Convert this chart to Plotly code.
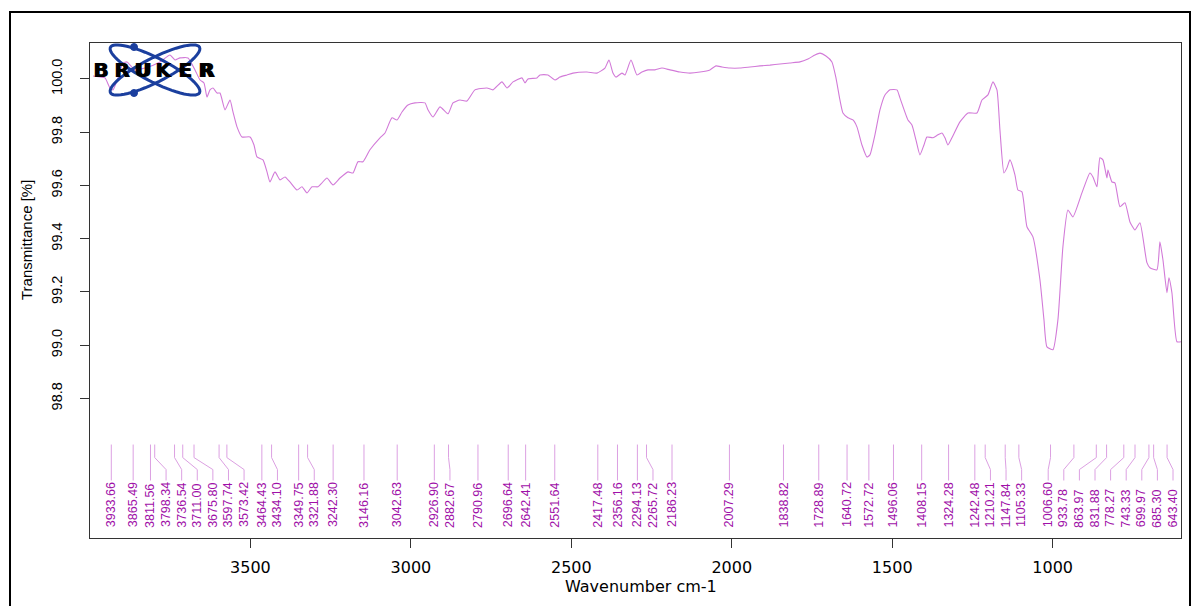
import numpy as np
import plotly.graph_objects as go

# ---------------- data ----------------
wavenumber = [3990.6, 3968.8, 3953.3, 3937.7, 3928.3, 3912.7, 3897.2, 3884.7, 3859.8, 3828.6,
              3781.9, 3750.7, 3735.1, 3719.5, 3694.6, 3672.8, 3657.2, 3644.8, 3635.4, 3626.1,
              3616.7, 3604.2, 3594.9, 3579.3, 3563.7, 3554.4, 3541.9, 3526.3, 3501.4, 3488.9,
              3479.6, 3460.9, 3448.4, 3439.1, 3423.5, 3407.9, 3392.3, 3376.8, 3354.9, 3339.4,
              3323.8, 3308.2, 3289.5, 3277.0, 3261.5, 3242.8, 3221.0, 3196.0, 3180.4, 3164.9,
              3149.3, 3127.5, 3096.3, 3080.7, 3058.9, 3043.3, 3027.7, 3009.1, 2987.3, 2956.1,
              2946.8, 2931.1, 2909.3, 2884.4, 2868.8, 2847.0, 2825.2, 2800.3, 2762.9, 2744.2,
              2716.1, 2700.5, 2681.8, 2653.8, 2644.4, 2635.1, 2607.1, 2597.7, 2572.8, 2551.0,
              2535.4, 2513.6, 2494.9, 2451.3, 2420.1, 2395.2, 2382.7, 2370.2, 2360.9, 2342.2,
              2332.8, 2314.1, 2295.4, 2279.8, 2261.2, 2239.3, 2217.5, 2192.6, 2161.4, 2130.3,
              2099.1, 2068.0, 2049.3, 2030.6, 2005.6, 1974.5, 1943.3, 1912.1, 1881.0, 1849.8,
              1818.7, 1787.5, 1762.6, 1740.8, 1725.2, 1706.5, 1687.8, 1675.3, 1662.9, 1653.5,
              1637.9, 1622.3, 1609.9, 1594.3, 1578.7, 1569.4, 1553.8, 1538.2, 1522.6, 1507.0,
              1485.2, 1475.9, 1450.9, 1438.5, 1426.0, 1413.6, 1401.1, 1391.8, 1372.9, 1357.5,
              1345.0, 1335.6, 1326.3, 1313.8, 1288.9, 1263.9, 1235.9, 1220.3, 1201.6, 1186.0,
              1173.6, 1164.3, 1151.8, 1142.4, 1133.1, 1117.5, 1108.2, 1095.7, 1080.1, 1061.4,
              1039.6, 1027.1, 1017.8, 999.1, 983.5, 968.0, 952.4, 936.8, 908.7, 883.8,
              874.4, 862.0, 852.6, 843.3, 830.8, 827.7, 815.2, 805.9, 790.3, 774.7,
              759.1, 743.6, 728.0, 706.2, 696.8, 675.0, 665.7, 656.3, 643.8, 637.6,
              628.3, 612.7, 600.2]

transmittance = [100.011, 100.007, 100.004, 99.966, 99.959, 100.004, 100.060, 100.064, 100.034, 100.041,
                 100.064, 100.090, 100.071, 100.079, 100.079, 100.034, 99.996, 99.985, 99.932, 99.959,
                 99.966, 99.947, 99.947, 99.884, 99.921, 99.876, 99.820, 99.782, 99.782, 99.752,
                 99.707, 99.696, 99.651, 99.613, 99.651, 99.621, 99.632, 99.613, 99.583, 99.595,
                 99.572, 99.595, 99.595, 99.610, 99.628, 99.602, 99.628, 99.651, 99.647, 99.689,
                 99.689, 99.734, 99.779, 99.797, 99.854, 99.846, 99.876, 99.902, 99.910, 99.910,
                 99.884, 99.857, 99.895, 99.869, 99.910, 99.921, 99.917, 99.959, 99.966, 99.959,
                 99.989, 99.966, 99.989, 100.004, 99.985, 100.000, 100.004, 100.015, 100.015, 99.996,
                 100.007, 100.015, 100.022, 100.026, 100.022, 100.041, 100.071, 100.022, 100.007, 100.022,
                 100.015, 100.071, 100.015, 100.026, 100.034, 100.034, 100.041, 100.034, 100.026, 100.022,
                 100.026, 100.034, 100.049, 100.045, 100.041, 100.041, 100.045, 100.049, 100.052, 100.056,
                 100.060, 100.064, 100.075, 100.090, 100.097, 100.086, 100.064, 100.004, 99.921, 99.872,
                 99.854, 99.846, 99.820, 99.752, 99.707, 99.715, 99.790, 99.884, 99.940, 99.959,
                 99.959, 99.929, 99.846, 99.827, 99.771, 99.715, 99.752, 99.782, 99.779, 99.790,
                 99.797, 99.779, 99.752, 99.779, 99.839, 99.872, 99.872, 99.921, 99.940, 99.989,
                 99.959, 99.809, 99.647, 99.666, 99.696, 99.640, 99.583, 99.576, 99.445, 99.407,
                 99.246, 99.096, 98.994, 98.983, 99.096, 99.370, 99.508, 99.482, 99.572, 99.647,
                 99.632, 99.595, 99.704, 99.696, 99.628, 99.658, 99.613, 99.610, 99.520, 99.535,
                 99.463, 99.433, 99.460, 99.310, 99.291, 99.283, 99.388, 99.321, 99.197, 99.253,
                 99.197, 99.013, 99.013]

peak_positions = [3933.66, 3865.49, 3811.56, 3798.34, 3736.54, 3711.00, 3675.80, 3597.74,
                  3573.42, 3464.43, 3434.10, 3349.75, 3321.88, 3242.30, 3146.16, 3042.63,
                  2926.90, 2882.67, 2790.96, 2696.64, 2642.41, 2551.64, 2417.48, 2356.16,
                  2294.13, 2265.72, 2186.23, 2007.29, 1838.82, 1728.89, 1640.72, 1572.72,
                  1496.06, 1408.15, 1324.28, 1242.48, 1210.21, 1147.84, 1105.33, 1006.60,
                  933.78, 863.97, 831.88, 778.27, 743.33, 699.97, 685.30, 643.40]
peak_labels = [f"{p:.2f}" for p in peak_positions]

x_ticks = [3500, 3000, 2500, 2000, 1500, 1000]
y_ticks = [98.8, 99.0, 99.2, 99.4, 99.6, 99.8, 100.0]
y_tick_labels = [f"{v:.1f}" for v in y_ticks]

X_RANGE = [4000, 600]
Y_RANGE = [98.276, 100.135]

# ---------------- layout geometry ----------------
W, H = 1192, 606
ML, MR, MT, MB = 90, 11, 43, 68
PW, PH = W - ML - MR, H - MT - MB


def px_x(px):
    return (px - ML) / PW


def px_y(py):
    return (H - MB - py) / PH


# label spreading (greedy, like the Bruker peak table)
units_per_px = (X_RANGE[0] - X_RANGE[1]) / PW
gap = 15.6 * units_per_px
right_limit = X_RANGE[1] + 8 * units_per_px
label_x = []
for p in peak_positions:
    q = p if not label_x else min(p, label_x[-1] - gap)
    label_x.append(q)
label_x[-1] = max(label_x[-1], right_limit)
for i in range(len(label_x) - 2, -1, -1):
    label_x[i] = max(label_x[i], label_x[i + 1] + gap)

# leader line levels (data y)
y_top, y_k1, y_k2, y_bot, y_txt = 98.627, 98.578, 98.533, 98.492, 98.308

lx, ly = [], []
for p, q in zip(peak_positions, label_x):
    lx += [p, p, q, q, None]
    ly += [y_top, y_k1, y_k2, y_bot, None]

fig = go.Figure()
fig.add_trace(go.Scatter(x=lx, y=ly, mode="lines",
                         line=dict(color="#dca0e2", width=1), hoverinfo="skip"))
fig.add_trace(go.Scatter(x=wavenumber, y=transmittance, mode="lines",
                         line=dict(color="#d27ad8", width=1.1, shape="spline", smoothing=0.5)))

annotations = []
for q, t in zip(label_x, peak_labels):
    annotations.append(dict(x=q, y=y_txt, xref="x", yref="y", text=t, textangle=-90,
                            showarrow=False, xanchor="center", yanchor="bottom",
                            font=dict(family="Liberation Sans, Arial", size=12.5, color="#a010a8")))

# axis titles
annotations.append(dict(x=px_x(641), y=px_y(586), xref="paper", yref="paper",
                        text="Wavenumber cm-1", showarrow=False,
                        xanchor="center", yanchor="middle",
                        font=dict(family="DejaVu Sans", size=16, color="black")))
annotations.append(dict(x=px_x(26), y=px_y(240), xref="paper", yref="paper",
                        text="Transmittance [%]", showarrow=False, textangle=-90,
                        xanchor="center", yanchor="middle",
                        font=dict(family="Liberation Sans, Arial", size=15, color="black")))

# BRUKER logo (decoration)
shapes = []
logo_blue = "#1b3f9e"
cx, cy, a, b = 155, 70, 50, 12
t = np.linspace(0, 2 * np.pi, 60)
for ang in (np.radians(27), np.radians(-27)):
    ex = cx + a * np.cos(t) * np.cos(ang) - b * np.sin(t) * np.sin(ang)
    ey = cy + a * np.cos(t) * np.sin(ang) + b * np.sin(t) * np.cos(ang)
    path = "M " + " L ".join(f"{px_x(u):.5f},{px_y(v):.5f}" for u, v in zip(ex, ey)) + " Z"
    shapes.append(dict(type="path", xref="paper", yref="paper", path=path,
                       line=dict(color=logo_blue, width=3), layer="above"))
for (dx, dy) in ((134, 47), (134, 93)):
    shapes.append(dict(type="circle", xref="paper", yref="paper",
                       x0=px_x(dx - 3.5), x1=px_x(dx + 3.5), y0=px_y(dy + 3.5), y1=px_y(dy - 3.5),
                       fillcolor=logo_blue, line=dict(color=logo_blue, width=1), layer="above"))
for k, ch in enumerate("BRUKER"):
    for off in (-0.6, 0.6):
        annotations.append(dict(x=px_x(100.6 + 21.17 * k + off), y=px_y(70), xref="paper", yref="paper",
                                text=f"<b>{ch}</b>", showarrow=False, xanchor="center", yanchor="middle",
                                font=dict(family="DejaVu Sans", size=20, color="black")))

# outer frame
shapes.append(dict(type="rect", xref="paper", yref="paper",
                   x0=px_x(10), x1=px_x(1190), y0=px_y(620), y1=px_y(12),
                   line=dict(color="black", width=2), layer="above"))

fig.update_layout(
    width=W, height=H, autosize=False,
    margin=dict(l=ML, r=MR, t=MT, b=MB),
    plot_bgcolor="white", paper_bgcolor="white",
    showlegend=False,
    annotations=annotations, shapes=shapes,
    xaxis=dict(range=X_RANGE, tickvals=x_ticks, ticktext=[str(v) for v in x_ticks],
               showgrid=False, zeroline=False, showline=True, mirror=True,
               linecolor="#333333", linewidth=1, ticks="outside", ticklen=9,
               tickcolor="#333333", ticklabelstandoff=6,
               tickfont=dict(family="DejaVu Sans", size=16, color="black")),
    yaxis=dict(range=Y_RANGE, tickvals=y_ticks, ticktext=y_tick_labels,
               showgrid=False, zeroline=False, showline=True, mirror=True,
               linecolor="#333333", linewidth=1, ticks="outside", ticklen=9,
               tickcolor="#333333", tickangle=-90, ticklabelstandoff=12,
               tickfont=dict(family="Liberation Sans, Arial", size=14.5, color="black")),
)

fig.write_html("out.html", config={"displayModeBar": False},
               post_script="document.body.style.margin='0';")
